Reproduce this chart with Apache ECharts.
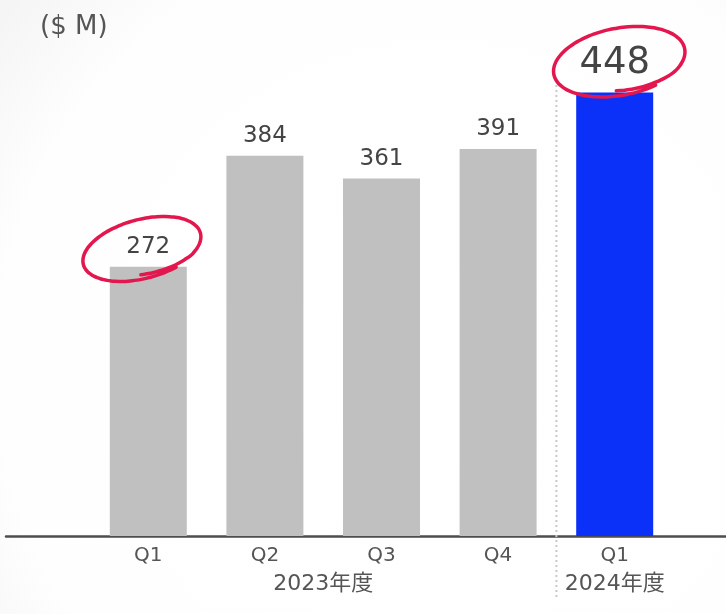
<!DOCTYPE html>
<html>
<head>
<meta charset="utf-8">
<script src="https://cdn.jsdelivr.net/npm/echarts@6/dist/echarts.min.js"></script>
<style>
  html, body { margin: 0; padding: 0; background: #ffffff; }
  #chart { width: 726px; height: 614px; }
</style>
</head>
<body>
<div id="chart"></div>
<script>
// Quarterly revenue, $ millions
const quarters = ['Q1', 'Q2', 'Q3', 'Q4', 'Q1'];
const revenue = [272, 384, 361, 391, 448];
const fiscalYears = ['2023年度', '2024年度'];
const unitLabel = '($ M)';

const FONT = '"DejaVu Sans", "Noto Sans CJK JP", sans-serif';
const GRAY = '#c0c0c0';
const BLUE = '#0b30f7';
const RED = '#e3164d';

const chart = echarts.init(document.getElementById('chart'));

const last = revenue.length - 1;
const barData = revenue.map((v, i) => ({
  value: v,
  itemStyle: { color: i === last ? BLUE : GRAY },
  label: i === last ? { fontSize: 37, distance: 11 } : {}
}));

chart.setOption({
  backgroundColor: {
    type: 'radial', x: 0.6, y: 0.6, r: 0.95,
    colorStops: [
      { offset: 0, color: '#ffffff' },
      { offset: 0.75, color: '#fefefe' },
      { offset: 1, color: '#f3f3f3' }
    ]
  },
  animation: false,
  grid: [
    { left: 90, right: 53, top: 41, bottom: 78 },
    { left: 6, right: 0, top: 41, bottom: 78 }
  ],
  xAxis: [
    {
      type: 'category', gridIndex: 0, data: quarters,
      axisLine: { show: false }, axisTick: { show: false },
      axisLabel: { color: '#555', fontSize: 20, fontFamily: FONT, margin: 10 }
    },
    {
      type: 'category', gridIndex: 1, data: [''],
      axisLine: { show: true, lineStyle: { color: '#4d4d4d', width: 2.5 } },
      axisTick: { show: false }, axisLabel: { show: false }
    }
  ],
  yAxis: [
    { type: 'value', gridIndex: 0, min: 0, max: 500, show: false },
    { type: 'value', gridIndex: 1, min: 0, max: 500, show: false }
  ],
  series: [{
    type: 'bar', xAxisIndex: 0, yAxisIndex: 0,
    data: barData,
    barWidth: 77,
    label: {
      show: true, position: 'top', distance: 8,
      color: '#444', fontSize: 23, fontFamily: FONT
    }
  }]
});

// Decorations placed from the axis scale
function px(i, v) { return chart.convertToPixel({ seriesIndex: 0 }, [i, v]); }

// Hand-drawn style loop around a value label
function loop(cx, cy, rx, ry, rotDeg) {
  const pts = [];
  const rot = rotDeg * Math.PI / 180;
  const start = 0.35 * Math.PI;
  const span = 2.2 * Math.PI;
  const n = 90;
  for (let k = 0; k <= n; k++) {
    const f = k / n;
    const t = start + span * f;
    const shrink = f > 0.85 ? 1 - (f - 0.85) * 0.9 : 1 + (0.85 - f) * 0.03;
    const ex = rx * shrink * Math.cos(t);
    const ey = ry * shrink * Math.sin(t);
    pts.push([
      cx + ex * Math.cos(rot) - ey * Math.sin(rot),
      cy + ex * Math.sin(rot) + ey * Math.cos(rot)
    ]);
  }
  return {
    type: 'polyline', z: 10,
    shape: { points: pts, smooth: 0.3 },
    style: { stroke: RED, lineWidth: 3.5, fill: null, lineCap: 'round' }
  };
}

const p0 = px(0, revenue[0]);
const pL = px(last, revenue[last]);
const p1 = px(1, 0), p2 = px(2, 0), p3 = px(3, 0);
const divX = (p3[0] + pL[0]) / 2;

chart.setOption({
  graphic: [
    {
      type: 'text', left: 40, top: 14,
      style: { text: unitLabel, fill: '#555', fontSize: 26, fontFamily: FONT }
    },
    {
      type: 'line', z: 1,
      shape: { x1: divX, y1: 85, x2: divX, y2: 600 },
      style: { stroke: '#c8c8c8', lineWidth: 2, lineDash: [2, 3] }
    },
    {
      type: 'text', x: (p1[0] + p2[0]) / 2, y: 584,
      style: { text: fiscalYears[0], fill: '#555', fontSize: 22, fontFamily: FONT,
               align: 'center', verticalAlign: 'middle' }
    },
    {
      type: 'text', x: pL[0], y: 584,
      style: { text: fiscalYears[1], fill: '#555', fontSize: 22, fontFamily: FONT,
               align: 'center', verticalAlign: 'middle' }
    },
    loop(p0[0] - 6, p0[1] - 18, 60, 29, -15),
    loop(pL[0] + 5, pL[1] - 31, 66, 33, -11)
  ]
});
</script>
</body>
</html>
